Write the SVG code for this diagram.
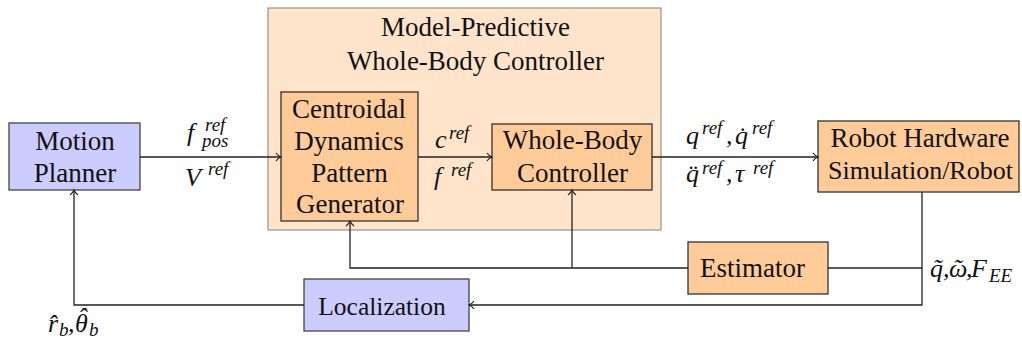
<svg xmlns="http://www.w3.org/2000/svg" width="1022" height="344" viewBox="0 0 1022 344">
<style>
text,tspan{font-family:'Liberation Serif' !important}
.t{font-size:27px;text-anchor:middle;fill:#111}
.m{font-size:26px;font-style:italic;fill:#111}
.s{font-size:19px;font-style:italic}
.orange{fill:#ffcc99;stroke:#333;stroke-width:1.3}
.blue{fill:#ccccff;stroke:#444;stroke-width:1.3}
.outer{fill:#ffe4cb;stroke:#a09a94;stroke-width:1.3}
.c{fill:none;stroke:#222;stroke-width:1.3}
</style>
<defs>
<marker id="arr" markerUnits="userSpaceOnUse" markerWidth="12" markerHeight="12" viewBox="-7 -6 8 12" refX="0" refY="0" orient="auto">
<path d="M-5,-4 C-3.5,-1.8 -1.2,-0.5 0,0 C-1.2,0.5 -3.5,1.8 -5,4" fill="none" stroke="#222" stroke-width="1.2"/>
</marker>
</defs>
<rect width="1022" height="344" fill="#fff"/>

<g id="mpc">
<rect class="outer" x="268" y="8" width="393" height="222"/>
<text class="t" style="font-family:'Liberation Serif' !important" x="475.5" y="36">Model-Predictive</text>
<text class="t" style="font-family:'Liberation Serif' !important" x="475.5" y="70">Whole-Body Controller</text>
</g>

<g id="motion-planner">
<rect class="blue" x="9" y="123" width="131" height="67"/>
<text class="t" style="font-family:'Liberation Serif' !important" x="75" y="150">Motion</text>
<text class="t" style="font-family:'Liberation Serif' !important" x="75" y="182">Planner</text>
</g>

<g id="cdpg">
<rect class="orange" x="281" y="92" width="137" height="129"/>
<text class="t" style="font-family:'Liberation Serif' !important" x="349" y="118">Centroidal</text>
<text class="t" style="font-family:'Liberation Serif' !important" x="349" y="150">Dynamics</text>
<text class="t" style="font-family:'Liberation Serif' !important" x="349.5" y="182">Pattern</text>
<text class="t" style="font-family:'Liberation Serif' !important" x="350" y="213">Generator</text>
</g>

<g id="wbc">
<rect class="orange" x="492" y="124" width="160" height="66"/>
<text class="t" style="font-family:'Liberation Serif' !important" x="572.5" y="149">Whole-Body</text>
<text class="t" style="font-family:'Liberation Serif' !important" x="572.5" y="181.5">Controller</text>
</g>

<g id="robot">
<rect class="orange" x="818" y="121" width="201" height="71"/>
<text class="t" style="font-family:'Liberation Serif' !important" x="920" y="146.5">Robot Hardware</text>
<text class="t" style="font-family:'Liberation Serif' !important;font-size:26px" x="920.5" y="178.5">Simulation/Robot</text>
</g>

<g id="estimator">
<rect class="orange" x="688" y="242" width="140" height="52"/>
<text class="t" style="font-family:'Liberation Serif' !important" x="752.5" y="277">Estimator</text>
</g>

<g id="localization">
<rect class="blue" x="304" y="279" width="165" height="52"/>
<text class="t" style="font-family:'Liberation Serif' !important;font-size:25.5px" x="382" y="315">Localization</text>
</g>

<g id="connectors">
<path class="c" d="M140,157 H281" marker-end="url(#arr)"/>
<path class="c" d="M418,157 H492" marker-end="url(#arr)"/>
<path class="c" d="M652,157 H818" marker-end="url(#arr)"/>
<path class="c" d="M922,192 V305 H469" marker-end="url(#arr)"/>
<path class="c" d="M828,268 H922"/>
<path class="c" d="M688,268 H350 V221" marker-end="url(#arr)"/>
<path class="c" d="M572,268 V190" marker-end="url(#arr)"/>
<path class="c" d="M304,305 H74 V190" marker-end="url(#arr)"/>
</g>

<g id="edge-labels">
<text class="m" style="font-family:'Liberation Serif' !important" x="187" y="141">f<tspan class="s" x="205" y="131">ref</tspan><tspan class="s" x="202" y="147">pos</tspan></text>
<text class="m" style="font-family:'Liberation Serif' !important" x="185" y="186">V<tspan class="s" x="208" y="175">ref</tspan></text>
<text class="m" style="font-family:'Liberation Serif' !important" x="435" y="148">c<tspan class="s" x="449" y="139">ref</tspan></text>
<text class="m" style="font-family:'Liberation Serif' !important" x="434" y="185">f<tspan class="s" x="451" y="176">ref</tspan></text>
<text class="m" style="font-family:'Liberation Serif' !important" x="686" y="144">q<tspan class="s" x="702" y="134">ref</tspan><tspan x="726" y="144">,</tspan><tspan x="735" y="144">q&#x307;</tspan><tspan class="s" x="752" y="134">ref</tspan></text>
<text class="m" style="font-family:'Liberation Serif' !important" x="686" y="182">q&#x308;<tspan class="s" x="702" y="174">ref</tspan><tspan x="726" y="182">,</tspan><tspan x="735" y="182">&#x3C4;</tspan><tspan class="s" x="753" y="174">ref</tspan></text>
<text class="m" style="font-family:'Liberation Serif' !important" x="930" y="277">q&#x303;<tspan x="943" y="277">,</tspan><tspan x="949" y="277">&#x3C9;</tspan><tspan x="953" y="277">&#x2DC;</tspan><tspan x="966" y="277">,</tspan><tspan x="971" y="277">F</tspan><tspan class="s" x="989" y="282">EE</tspan></text>
<text class="m" style="font-family:'Liberation Serif' !important" x="48" y="332">r&#x302;<tspan class="s" x="59" y="336">b</tspan><tspan x="68" y="332">,</tspan><tspan x="75" y="332">&#x3B8;</tspan><tspan x="78" y="326">&#x2C6;</tspan><tspan class="s" x="89" y="336">b</tspan></text>
</g>
</svg>
